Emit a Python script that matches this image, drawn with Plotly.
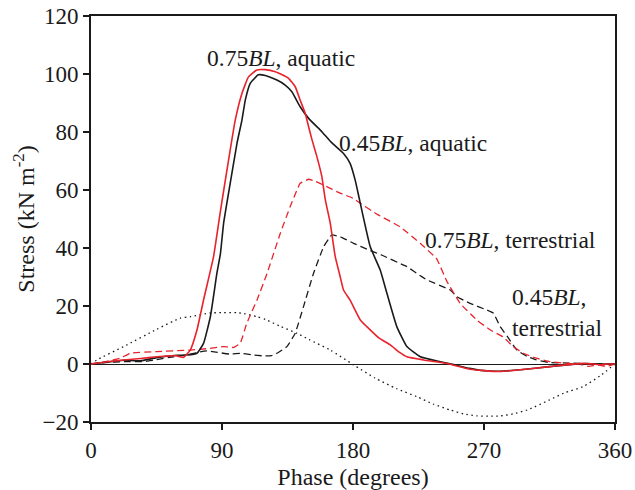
import plotly.graph_objects as go

# 0.45BL aquatic (black solid)
aq045_x = [0, 10, 22, 34, 45, 59, 66, 72.8, 77.3, 82, 86.5, 88.9, 91.1, 94.5, 100.3, 103.7, 106, 109.4, 115, 119.7,
           127.7, 133.4, 138, 143.7, 149.5, 158.6, 165, 173.5, 178, 181.5, 184.5, 191.8, 198.7, 203.3, 210.1,
           217, 226.2, 240, 250, 260, 270, 280, 295, 315, 338, 350, 360]
aq045_y = [0, 0.6, 1.3, 1.1, 2.2, 3, 3.1, 3.7, 7.1, 16.3, 31.3, 38, 48.5, 58.9, 76.1, 84.1, 91, 96.8, 99.7, 99.5,
           97.9, 96.2, 93.9, 88.7, 84.7, 80.1, 76.5, 72.6, 69.2, 63.4, 56.6, 40.5, 32.4, 24.4, 12.9,
           6, 2.5, 0.8, -0.3, -1.5, -2.3, -2.5, -2, -0.9, 0.1, 0, 0]

# 0.75BL aquatic (red solid)
aq075_x = [0, 10, 22.4, 34, 45.3, 55, 59, 63.6, 68.2, 72.8, 77.3, 84.2, 89, 94.5, 99.1, 103.7, 108.2, 114,
           119.7, 126.6, 131, 135.7, 140.3, 143.7, 147.2, 149.5, 151.9, 155.2, 158.6, 161, 164.4, 167.8, 171.2,
           173.5, 178, 185, 189.5, 198, 205.6, 212, 217, 228.5, 244.5, 260.5, 270, 281, 295, 315, 338, 345,
           350, 355, 360]
aq075_y = [0, 0.7, 1.4, 1.9, 2.5, 2.8, 2.8, 2.3, 4.8, 11.7, 22, 37, 53, 70.3, 84.1, 93.3, 99, 101.4,
           101.5, 100.8, 99.8, 98.5, 95.6, 91, 86.4, 81.8, 77.2, 71.5, 64.6, 56.6, 48.5, 37, 30.1,
           25.5, 22, 15.2, 12.9, 8.9, 6.6, 4, 2.5, 1.4, 0.2, -1.8, -2.3, -2.6, -2, -0.9, 0.2, 0,
           -0.3, 0, 0]

# 0.75BL terrestrial (red dashed)
ter075_x = [0, 10, 20, 27, 45.3, 68.2, 80, 91, 98, 102.5, 107, 114, 121, 130, 136.8, 141.5, 143.7, 149.5,
            154, 159.8, 171.2, 180.4, 185, 197, 212.4, 226.2, 237.6, 244.5, 253.6, 265, 274.4, 283, 290,
            297, 306, 315.5, 325, 335, 342, 348, 354, 360]
ter075_y = [0, 0.8, 2, 3.7, 4.3, 4.8, 5.3, 6, 5.7, 7.1, 14, 22, 31.3, 45, 54.2, 60, 62.3, 63.7,
            63, 61.7, 58.9, 57.1, 55.4, 51.5, 47.3, 41.6, 36.2, 28.5, 20.9, 15.2, 11.7, 9.4, 6,
            3.7, 2, 0.8, 0.3, 0, -0.8, -0.3, -0.8, 0]

# 0.45BL terrestrial (black dashed)
ter045_x = [0, 10, 22.4, 36, 45, 56.7, 66, 75, 79.7, 87, 95.7, 102.5, 110, 118.5, 124, 127.7, 134.6, 140.3,
            146, 152.9, 159.8, 165.5, 171.2, 180.4, 190, 200, 214.7, 217, 226, 230.8, 246.8, 251.4, 260,
            272, 276.5, 281, 286, 292.6, 300, 306, 315, 330, 345, 360]
ter045_y = [0, 0.5, 0.8, 0.8, 1.5, 2.5, 3.1, 4.2, 4.5, 4, 3.4, 3.7, 3.2, 2.8, 2.9, 3.7, 6, 10.6,
            19.8, 31.3, 40.4, 44.5, 43.9, 41.6, 39.5, 37.5, 34.1, 33.6, 30.5, 29, 25.5, 23.2, 21,
            18.6, 17.5, 13, 9.5, 4.8, 2.5, 1.4, 0.5, 0.3, 0.1, 0]

# dotted reference curve
ref_x = [0, 4, 22.4, 45.3, 61.3, 68.2, 82, 90, 100.3, 105, 114, 120, 130, 141.5, 150, 164.4, 180.4, 195,
         210, 224, 235, 247, 256, 265, 273, 281, 290, 300, 315, 325, 338, 350, 360]
ref_y = [0, 1.4, 6, 12, 15.8, 16.3, 17.6, 17.7, 17.7, 17.4, 16.3, 15.3, 13, 10.6, 8.4, 4.8, -0.3, -4.8,
         -8.5, -11.3, -13.8, -15.9, -17.2, -17.9, -18, -17.9, -17.2, -15.8, -12.4, -10, -7.8, -4, 0]

x_ticks = [0, 90, 180, 270, 360]

RED = "#e8232b"
BLK = "#1a1a1a"
FONT = "Liberation Serif"

fig = go.Figure()
fig.add_trace(go.Scatter(x=ref_x, y=ref_y, mode="lines",
                         line=dict(color=BLK, width=1.3, dash="1.5px,3.5px", shape="spline", smoothing=0.6)))
fig.add_trace(go.Scatter(x=ter045_x, y=ter045_y, mode="lines",
                         line=dict(color=BLK, width=1.3, dash="7px,4px", shape="spline", smoothing=0.3)))
fig.add_trace(go.Scatter(x=ter075_x, y=ter075_y, mode="lines",
                         line=dict(color=RED, width=1.3, dash="7px,4px", shape="spline", smoothing=0.3)))
fig.add_trace(go.Scatter(x=aq045_x, y=aq045_y, mode="lines",
                         line=dict(color=BLK, width=1.6, shape="spline", smoothing=0.4)))
fig.add_trace(go.Scatter(x=aq075_x, y=aq075_y, mode="lines",
                         line=dict(color=RED, width=1.6, shape="spline", smoothing=0.4)))

ann_font = dict(family=FONT, size=23.5, color=BLK)
annotations = [
    dict(x=78.5, y=105.5, text="0.75<i>BL</i>, aquatic"),
    dict(x=169.2, y=76.2, text="0.45<i>BL</i>, aquatic"),
    dict(x=228.2, y=42.8, text="0.75<i>BL</i>, terrestrial"),
    dict(x=288, y=17.8, text="0.45<i>BL</i>,<br>terrestrial"),
]
for a in annotations:
    fig.add_annotation(xref="x", yref="y", xanchor="left", yanchor="middle", showarrow=False,
                       font=ann_font, align="left", **a)

fig.update_layout(
    width=635, height=490,
    margin=dict(l=91, r=20, t=16, b=68),
    paper_bgcolor="white", plot_bgcolor="white",
    showlegend=False,
    font=dict(family=FONT, size=23, color=BLK),
)
fig.update_xaxes(range=[0, 360], tickvals=x_ticks, ticks="outside", ticklen=6, tickwidth=1.5,
                 tickcolor=BLK, showline=True, linecolor=BLK, linewidth=2, mirror=True,
                 showgrid=False, zeroline=False, automargin=False, ticklabeloverflow="allow",
                 tickfont=dict(family=FONT, size=23),
                 title=dict(text="Phase (degrees)", font=dict(family=FONT, size=24), standoff=8))
fig.update_yaxes(range=[-20, 120], dtick=20, ticks="outside", ticklen=6, tickwidth=1.5,
                 tickcolor=BLK, showline=True, linecolor=BLK, linewidth=2, mirror=True,
                 showgrid=False, zeroline=True, zerolinecolor=BLK, zerolinewidth=1.2, automargin=False,
                 ticklabeloverflow="allow",
                 tickfont=dict(family=FONT, size=23),
                 title=dict(text="Stress (kN m<sup>-2</sup>)", font=dict(family=FONT, size=24), standoff=1))

fig.write_html("out.html", config={"displayModeBar": False},
               post_script="document.body.style.margin='0';")
